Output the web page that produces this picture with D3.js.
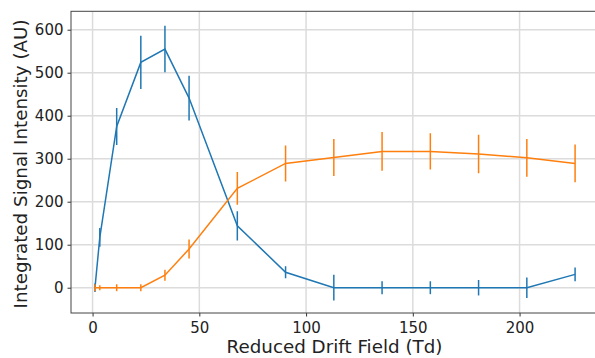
<!DOCTYPE html>
<html>
<head>
<meta charset="utf-8">
<script src="https://cdn.jsdelivr.net/npm/d3@7"></script>
<style>
  body { margin: 0; background: #fff; }
  svg { display: block; font-family: "DejaVu Sans", sans-serif; }
</style>
</head>
<body>
<script>
// 数据：约化漂移场 (Td)
const fields = [1.13, 3.39, 11.3, 22.6, 33.9, 45.2, 67.8, 90.4, 113, 135.6, 158.2, 180.8, 203.4, 226];
// 蓝色系列
const blueValues = [0, 117, 375, 524, 555, 441, 144, 36, 0, 0, 0, 0, 0, 31];
const blueErrors = [10, 22, 43, 62, 54, 52, 34, 14, 30, 15, 15, 18, 24, 16];
// 橙色系列
const orangeValues = [0, 0, 0, 0, 29, 90, 231, 289, 303, 317, 317, 311, 302, 289];
const orangeErrors = [8, 6, 8, 8, 13, 22, 38, 42, 43, 45, 42, 45, 44, 44];
// 刻度
const xTicks = [0, 50, 100, 150, 200];
const yTicks = [0, 100, 200, 300, 400, 500, 600];

const width = 595, height = 358;
const mLeft = 71, mRight = 599, mTop = 11.3, mBottom = 313;

const svg = d3.select('body').append('svg')
    .attr('width', width)
    .attr('height', height);

const x = d3.scaleLinear().domain([-10.1, 237.2]).range([mLeft, mRight]);
const y = d3.scaleLinear().domain([-58.8, 642.8]).range([mBottom, mTop]);

// 网格线
const grid = svg.append('g');
grid.selectAll('.gx').data(xTicks).enter().append('line')
    .attr('x1', d => x(d)).attr('x2', d => x(d))
    .attr('y1', mTop).attr('y2', mBottom)
    .attr('stroke', '#dcdcdc').attr('stroke-width', 1.5);
grid.selectAll('.gy').data(yTicks).enter().append('line')
    .attr('x1', mLeft).attr('x2', mRight)
    .attr('y1', d => y(d)).attr('y2', d => y(d))
    .attr('stroke', '#dcdcdc').attr('stroke-width', 1.5);

svg.append('clipPath').attr('id', 'clip')
    .append('rect').attr('x', mLeft).attr('y', mTop)
    .attr('width', mRight - mLeft).attr('height', mBottom - mTop);

const plot = svg.append('g').attr('clip-path', 'url(#clip)');

// 绘制误差线系列
const drawSeries = (values, errors, color) => {
    const pts = fields.map((f, i) => ({ f, v: values[i], e: errors[i] }));
    plot.append('path')
        .datum(pts)
        .attr('fill', 'none')
        .attr('stroke', color)
        .attr('stroke-width', 1.5)
        .attr('d', d3.line().x(d => x(d.f)).y(d => y(d.v)));
    plot.selectAll(null).data(pts).enter().append('line')
        .attr('x1', d => x(d.f)).attr('x2', d => x(d.f))
        .attr('y1', d => y(d.v - d.e)).attr('y2', d => y(d.v + d.e))
        .attr('stroke', color).attr('stroke-width', 1.5);
};
drawSeries(blueValues, blueErrors, '#1f77b4');
drawSeries(orangeValues, orangeErrors, '#ff7f0e');

// 坐标轴
const xAxis = svg.append('g')
    .attr('transform', `translate(0,${mBottom})`)
    .call(d3.axisBottom(x).tickValues(xTicks).tickSize(3.5).tickPadding(5.5));
const yAxis = svg.append('g')
    .attr('transform', `translate(${mLeft},0)`)
    .call(d3.axisLeft(y).tickValues(yTicks).tickSize(3.5).tickPadding(4));
[xAxis, yAxis].forEach(a => {
    a.select('.domain').remove();
    a.selectAll('line').attr('stroke', '#333');
    a.selectAll('text').attr('font-size', 15).attr('fill', '#222')
        .attr('font-family', '"DejaVu Sans", sans-serif');
});

// 边框
svg.append('rect')
    .attr('x', mLeft).attr('y', mTop)
    .attr('width', mRight - mLeft).attr('height', mBottom - mTop)
    .attr('fill', 'none').attr('stroke', '#444').attr('stroke-width', 1);

// 轴标题
svg.append('text')
    .attr('x', 334.5).attr('y', 353)
    .attr('text-anchor', 'middle')
    .attr('font-size', 18.3).attr('fill', '#222')
    .text('Reduced Drift Field (Td)');
svg.append('text')
    .attr('transform', `translate(27,${164}) rotate(-90)`)
    .attr('text-anchor', 'middle')
    .attr('font-size', 18.3).attr('fill', '#222')
    .text('Integrated Signal Intensity (AU)');
</script>
</body>
</html>
